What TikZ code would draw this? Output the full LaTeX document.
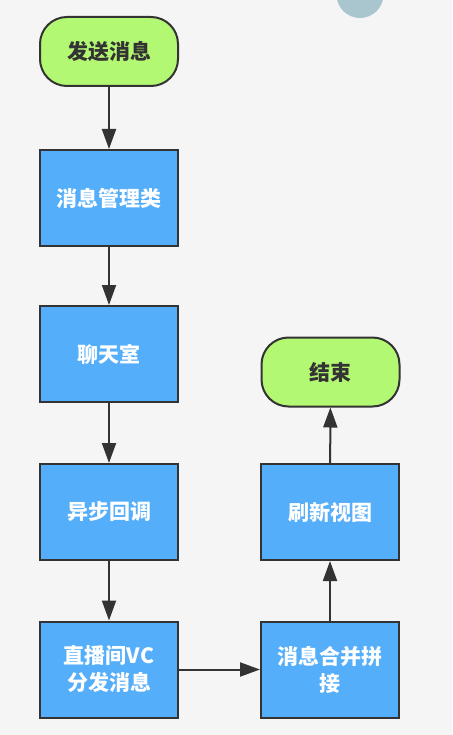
\documentclass[tikz,border=0pt]{standalone}
\usepackage{fontspec}
\setmainfont{Noto Sans CJK SC}
\usetikzlibrary{arrows.meta}
\definecolor{bgc}{HTML}{F5F5F5}
\definecolor{circc}{HTML}{A9C5CD}
\definecolor{boxblue}{HTML}{55AEF9}
\definecolor{termgreen}{HTML}{B3F872}
\definecolor{edgec}{HTML}{333333}
\tikzset{
  procbox/.style={rectangle, draw=edgec, line width=2pt, fill=boxblue,
    minimum width=138pt, minimum height=96pt, text=white, align=center,
    font=\bfseries\fontsize{21}{27}\selectfont, inner sep=0pt},
  termbox/.style={rectangle, rounded corners=27pt, draw=edgec, line width=2pt, fill=termgreen,
    minimum width=138pt, minimum height=69pt, text=edgec, align=center,
    font=\bfseries\fontsize{21}{27}\selectfont, inner sep=0pt},
  flow/.style={draw=edgec, line width=2pt, -{Triangle[length=20pt,width=14pt]}}
}
\begin{document}
\begin{tikzpicture}[x=1pt,y=-1pt]
\useasboundingbox (0,0) rectangle (452,735);
\fill[bgc] (0,0) rectangle (452,735);
\begin{scope}
\clip (0,0) rectangle (452,735);
\fill[circc] (360,-5.5) circle (23.5);
\end{scope}
\node[termbox] (start) at (109,51.5) {发送消息};
\node[procbox] (mgr) at (109,198) {消息管理类};
\node[procbox] (room) at (109,354) {聊天室};
\node[procbox] (cb) at (109,512) {异步回调};
\node[procbox] (vc) at (109,669.5) {直播间VC\\分发消息};
\node[procbox] (merge) at (330,669.5) {消息合并拼\\接};
\node[procbox] (refresh) at (330,512) {刷新视图};
\node[termbox] (end) at (330.5,372) {结束};
\draw[flow] (start) -- (mgr);
\draw[flow] (mgr) -- (room);
\draw[flow] (room) -- (cb);
\draw[flow] (cb) -- (vc);
\draw[flow] (vc) -- (merge);
\draw[flow] (merge) -- (refresh);
\draw[flow] (refresh) -- (end);
\end{tikzpicture}
\end{document}
